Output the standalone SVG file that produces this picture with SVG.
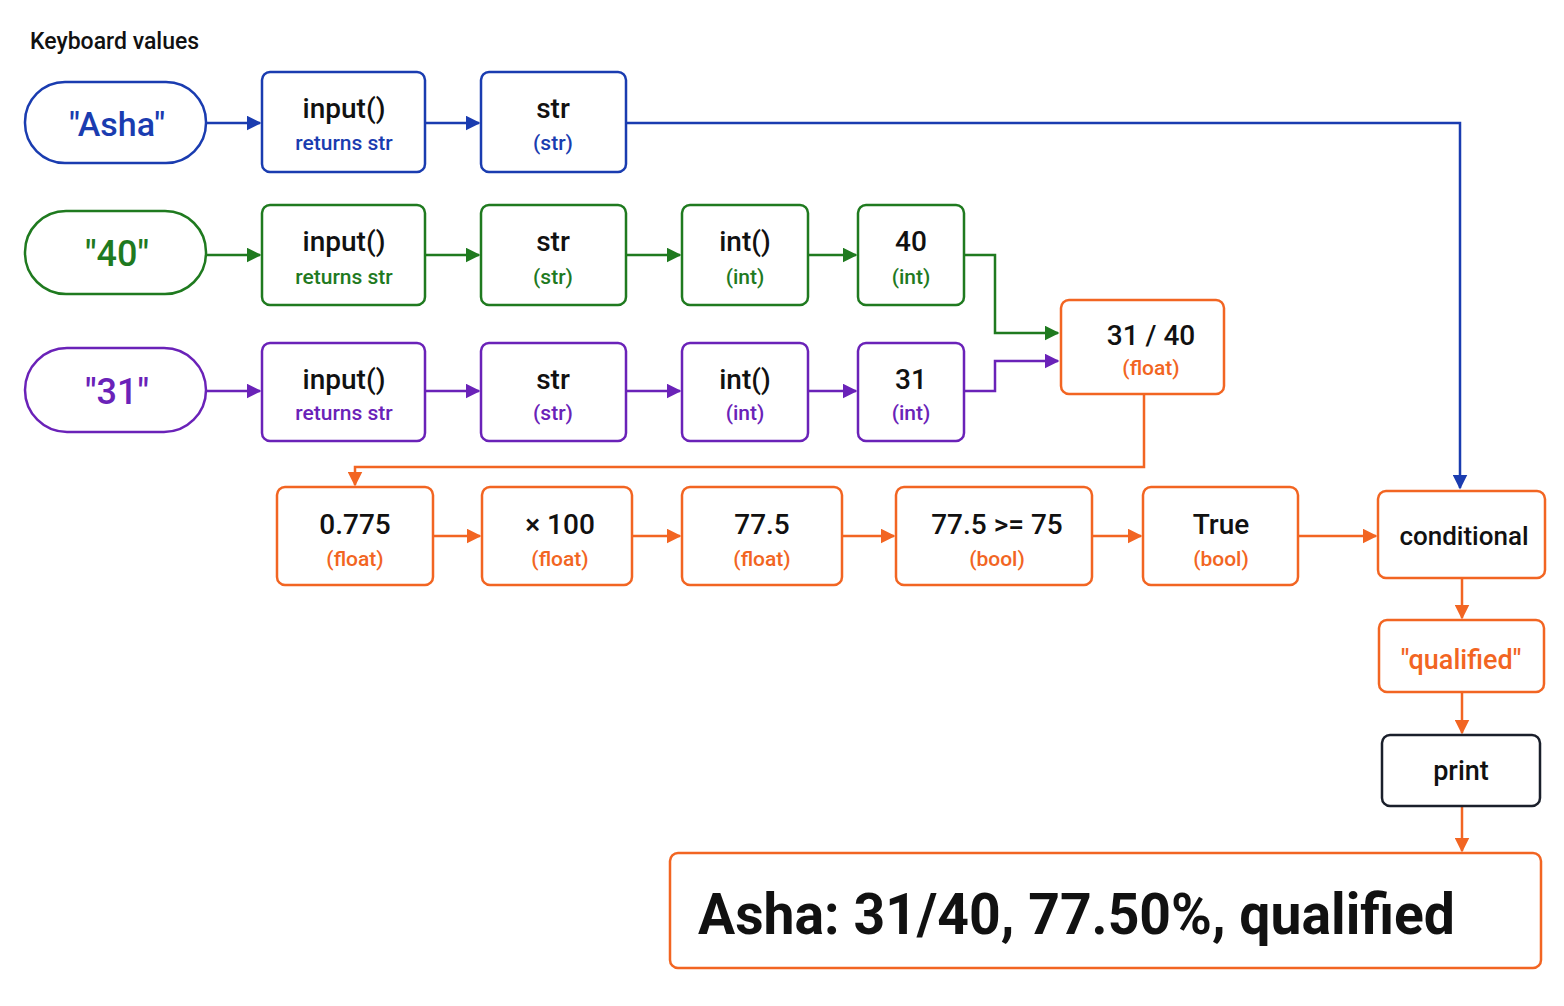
<svg xmlns="http://www.w3.org/2000/svg" width="1564" height="1006" viewBox="0 0 1564 1006">
<defs>
<style>
text{font-family:Roboto,"Liberation Sans",sans-serif;text-anchor:middle}
.m{font-size:28px;font-weight:500;fill:#111}
.s{font-size:21px;font-weight:500}
.b rect{fill:#fff;stroke-width:2.5}
.bl{stroke:#1a3cb0}.gr{stroke:#1f7a1f}.pu{stroke:#6a22b8}.or{stroke:#f26522}.dk{stroke:#1a1f2b}
.fb{fill:#1a3cb0}.fg{fill:#1f7a1f}.fp{fill:#6a22b8}.fo{fill:#f26522}
.c{fill:none;stroke-width:2.5}
</style>
<marker id="ab" viewBox="0 0 10 10" refX="9" refY="5" markerWidth="6" markerHeight="6" orient="auto"><path d="M0,0L10,5L0,10z" fill="#1a3cb0"/></marker>
<marker id="ag" viewBox="0 0 10 10" refX="9" refY="5" markerWidth="6" markerHeight="6" orient="auto"><path d="M0,0L10,5L0,10z" fill="#1f7a1f"/></marker>
<marker id="ap" viewBox="0 0 10 10" refX="9" refY="5" markerWidth="6" markerHeight="6" orient="auto"><path d="M0,0L10,5L0,10z" fill="#6a22b8"/></marker>
<marker id="ao" viewBox="0 0 10 10" refX="9" refY="5" markerWidth="6" markerHeight="6" orient="auto"><path d="M0,0L10,5L0,10z" fill="#f26522"/></marker>
</defs>
<rect width="1564" height="1006" fill="#fff"/>
<text x="30" y="49" style="font-size:23px;font-weight:500;text-anchor:start;fill:#111">Keyboard values</text>
<g id="connectors">
<path class="c bl" d="M206,123H260" marker-end="url(#ab)"/>
<path class="c bl" d="M425,123H479" marker-end="url(#ab)"/>
<path class="c bl" d="M626,123H1460V488" marker-end="url(#ab)"/>
<path class="c gr" d="M206,255H260" marker-end="url(#ag)"/>
<path class="c gr" d="M425,255H479" marker-end="url(#ag)"/>
<path class="c gr" d="M626,255H680" marker-end="url(#ag)"/>
<path class="c gr" d="M808,255H856" marker-end="url(#ag)"/>
<path class="c gr" d="M964,255H995V333H1058" marker-end="url(#ag)"/>
<path class="c pu" d="M206,391H260" marker-end="url(#ap)"/>
<path class="c pu" d="M425,391H479" marker-end="url(#ap)"/>
<path class="c pu" d="M626,391H680" marker-end="url(#ap)"/>
<path class="c pu" d="M808,391H856" marker-end="url(#ap)"/>
<path class="c pu" d="M964,391H995V361H1058" marker-end="url(#ap)"/>
<path class="c or" d="M1144,394V467H355V485" marker-end="url(#ao)"/>
<path class="c or" d="M433,536H480" marker-end="url(#ao)"/>
<path class="c or" d="M632,536H680" marker-end="url(#ao)"/>
<path class="c or" d="M842,536H894" marker-end="url(#ao)"/>
<path class="c or" d="M1092,536H1141" marker-end="url(#ao)"/>
<path class="c or" d="M1298,536H1376" marker-end="url(#ao)"/>
<path class="c or" d="M1462,578V618" marker-end="url(#ao)"/>
<path class="c or" d="M1462,692V733" marker-end="url(#ao)"/>
<path class="c or" d="M1462,806V851" marker-end="url(#ao)"/>
</g>
<g id="n1" class="b"><rect class="bl" x="25" y="82" width="181" height="81" rx="40"/><text x="117" y="136" style="font-size:34px;font-weight:500" class="fb">"Asha"</text></g>
<g id="n2" class="b"><rect class="bl" x="262" y="72" width="163" height="100" rx="8"/><text x="344" y="118" class="m">input()</text><text x="344" y="150" class="s fb">returns str</text></g>
<g id="n3" class="b"><rect class="bl" x="481" y="72" width="145" height="100" rx="8"/><text x="553" y="118" class="m">str</text><text x="553" y="150" class="s fb">(str)</text></g>
<g id="n4" class="b"><rect class="gr" x="25" y="211" width="181" height="83" rx="41"/><text x="117" y="266" style="font-size:36px;font-weight:500" class="fg">"40"</text></g>
<g id="n5" class="b"><rect class="gr" x="262" y="205" width="163" height="100" rx="8"/><text x="344" y="251" class="m">input()</text><text x="344" y="284" class="s fg">returns str</text></g>
<g id="n6" class="b"><rect class="gr" x="481" y="205" width="145" height="100" rx="8"/><text x="553" y="251" class="m">str</text><text x="553" y="284" class="s fg">(str)</text></g>
<g id="n7" class="b"><rect class="gr" x="682" y="205" width="126" height="100" rx="8"/><text x="745" y="251" class="m">int()</text><text x="745" y="284" class="s fg">(int)</text></g>
<g id="n8" class="b"><rect class="gr" x="858" y="205" width="106" height="100" rx="8"/><text x="911" y="251" class="m">40</text><text x="911" y="284" class="s fg">(int)</text></g>
<g id="n9" class="b"><rect class="pu" x="25" y="348" width="181" height="84" rx="42"/><text x="117" y="404" style="font-size:36px;font-weight:500" class="fp">"31"</text></g>
<g id="n10" class="b"><rect class="pu" x="262" y="343" width="163" height="98" rx="8"/><text x="344" y="389" class="m">input()</text><text x="344" y="420" class="s fp">returns str</text></g>
<g id="n11" class="b"><rect class="pu" x="481" y="343" width="145" height="98" rx="8"/><text x="553" y="389" class="m">str</text><text x="553" y="420" class="s fp">(str)</text></g>
<g id="n12" class="b"><rect class="pu" x="682" y="343" width="126" height="98" rx="8"/><text x="745" y="389" class="m">int()</text><text x="745" y="420" class="s fp">(int)</text></g>
<g id="n13" class="b"><rect class="pu" x="858" y="343" width="106" height="98" rx="8"/><text x="911" y="389" class="m">31</text><text x="911" y="420" class="s fp">(int)</text></g>
<g id="n14" class="b"><rect class="or" x="1061" y="300" width="163" height="94" rx="8"/><text x="1151" y="345" class="m">31 / 40</text><text x="1151" y="375" class="s fo">(float)</text></g>
<g id="n15" class="b"><rect class="or" x="277" y="487" width="156" height="98" rx="8"/><text x="355" y="534" class="m">0.775</text><text x="355" y="566" class="s fo">(float)</text></g>
<g id="n16" class="b"><rect class="or" x="482" y="487" width="150" height="98" rx="8"/><text x="560" y="534" class="m">× 100</text><text x="560" y="566" class="s fo">(float)</text></g>
<g id="n17" class="b"><rect class="or" x="682" y="487" width="160" height="98" rx="8"/><text x="762" y="534" class="m">77.5</text><text x="762" y="566" class="s fo">(float)</text></g>
<g id="n18" class="b"><rect class="or" x="896" y="487" width="196" height="98" rx="8"/><text x="997" y="534" class="m">77.5 &gt;= 75</text><text x="997" y="566" class="s fo">(bool)</text></g>
<g id="n19" class="b"><rect class="or" x="1143" y="487" width="155" height="98" rx="8"/><text x="1221" y="534" class="m">True</text><text x="1221" y="566" class="s fo">(bool)</text></g>
<g id="n20" class="b"><rect class="or" x="1378" y="491" width="167" height="87" rx="8"/><text x="1464" y="545" style="font-size:26px;font-weight:500;fill:#111">conditional</text></g>
<g id="n21" class="b"><rect class="or" x="1379" y="620" width="165" height="72" rx="8"/><text x="1461" y="669" style="font-size:27px;font-weight:500" class="fo">"qualified"</text></g>
<g id="n22" class="b"><rect class="dk" x="1382" y="735" width="158" height="71" rx="8"/><text x="1461" y="780" style="font-size:27px;font-weight:500;fill:#111">print</text></g>
<g id="n23" class="b"><rect class="or" x="670" y="853" width="871" height="115" rx="8"/><text x="698" y="934" textLength="757" lengthAdjust="spacingAndGlyphs" style="font-size:58px;font-weight:700;fill:#111;text-anchor:start">Asha: 31/40, 77.50%, qualified</text></g>
</svg>
